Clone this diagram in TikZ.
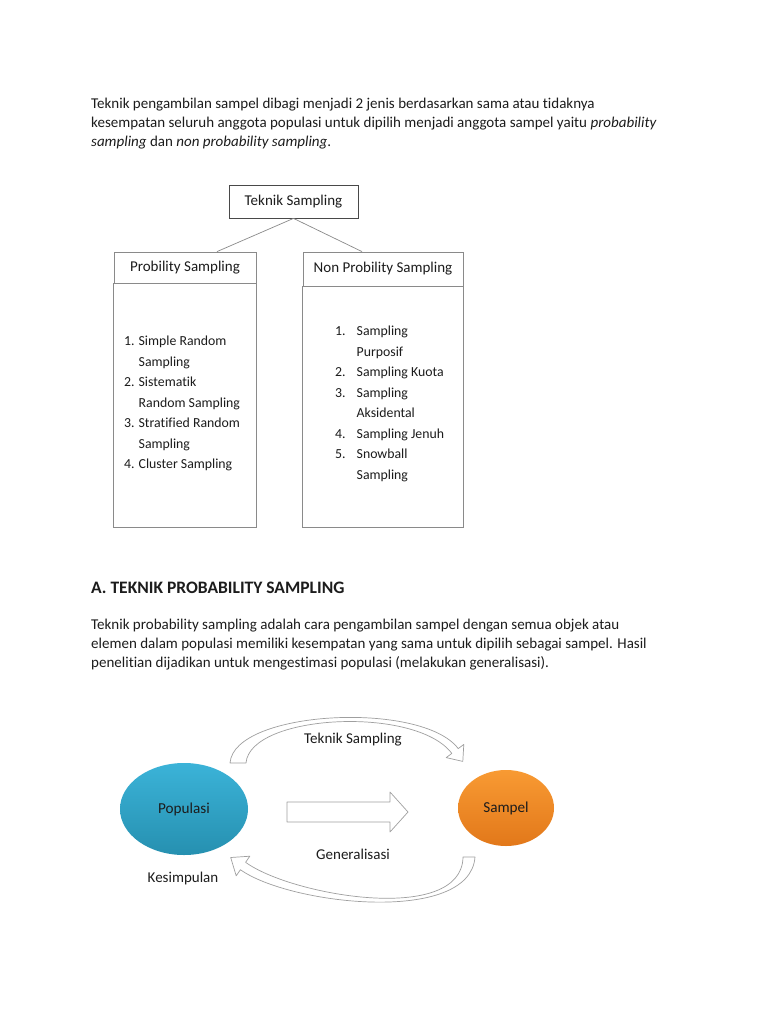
\documentclass[tikz,border=0pt]{standalone}
\usepackage{fontspec}
\setmainfont{Carlito}[Ligatures=NoCommon]
\usetikzlibrary{positioning,shapes.geometric,calc}
\definecolor{popblue}{HTML}{3BB3D8}
\definecolor{popbluedark}{HTML}{2690B0}
\definecolor{samporange}{HTML}{F89A33}
\definecolor{samporangedark}{HTML}{E2781A}
\definecolor{boxgray}{HTML}{8A8A8A}
\definecolor{inkgray}{HTML}{1C1C1C}

\tikzset{
  bodytext/.style={font=\fontsize{15}{19}\selectfont, align=left, inner sep=0pt, anchor=north west, text=inkgray},
  listtext/.style={font=\fontsize{13.8}{20.5}\selectfont, inner sep=0pt, anchor=north west, text=inkgray},
  headbox/.style={draw=boxgray, line width=0.8pt, inner sep=0pt, font=\fontsize{15}{17}\selectfont, text=inkgray},
  bodybox/.style={draw=boxgray, line width=0.8pt},
  blob/.style={ellipse, inner sep=0pt, font=\fontsize{15.2}{17}\selectfont, text=inkgray},
  hollowarrow/.style={draw=gray!75, fill=white, line width=0.7pt, line join=round},
  linklabel/.style={font=\fontsize{15}{17}\selectfont, inner sep=0pt, text=inkgray}
}

\begin{document}
\begin{tikzpicture}[x=1pt, y=-1pt]
  \fill[white] (0,0) rectangle (768,1024);
  \useasboundingbox (0,0) rectangle (768,1024);

  \node[bodytext] (intro) at (91,97.5) {Teknik pengambilan sampel dibagi menjadi 2 jenis berdasarkan sama atau tidaknya\\
    kesempatan seluruh anggota populasi untuk dipilih menjadi anggota sampel yaitu \emph{probability}\\
    \emph{sampling} dan \emph{non probability sampling}.};

  % pohon teknik sampling
  \node[headbox, draw=inkgray!80, minimum width=129pt, minimum height=33pt] (teknik) at (293.5,201.5) {Teknik Sampling};
  \node[headbox, minimum width=142pt, minimum height=31pt] (probhead) at (185,267.5) {Probility Sampling};
  \node[headbox, minimum width=160pt, minimum height=34pt] (nonhead) at (383,269) {Non Probility Sampling};
  \draw[bodybox] (probhead.south west) rectangle (256,527);
  \draw[bodybox] (nonhead.south west) rectangle (463,527);
  \draw[boxgray, line width=0.7pt] (teknik.south) -- ([xshift=32pt]probhead.north);
  \draw[boxgray, line width=0.7pt] (teknik.south) -- ([xshift=-21pt]nonhead.north);

  \node[listtext] (problist) at (124,331) {\begin{tabular}{@{}l@{\hspace{4pt}}l@{}}
    1. & Simple Random\\
       & Sampling\\
    2. & Sistematik\\
       & Random Sampling\\
    3. & Stratified Random\\
       & Sampling\\
    4. & Cluster Sampling
  \end{tabular}};
  \node[listtext] (nonlist) at (335,321) {\begin{tabular}{@{}l@{\hspace{11pt}}l@{}}
    1. & Sampling\\
       & Purposif\\
    2. & Sampling Kuota\\
    3. & Sampling\\
       & Aksidental\\
    4. & Sampling Jenuh\\
    5. & Snowball\\
       & Sampling
  \end{tabular}};

  \node[anchor=west, inner sep=0pt, font=\fontsize{17.5}{20}\selectfont\bfseries, text=inkgray] (heading) at (91,588) {A. TEKNIK PROBABILITY SAMPLING};

  \node[bodytext] (probdef) at (91,619) {Teknik probability sampling adalah cara pengambilan sampel dengan semua objek atau\\
    elemen dalam populasi memiliki kesempatan yang sama untuk dipilih sebagai sampel. Hasil\\
    penelitian dijadikan untuk mengestimasi populasi (melakukan generalisasi).};

  % siklus populasi - sampel
  \node[blob, top color=popblue, bottom color=popbluedark, minimum width=128pt, minimum height=92pt] (populasi) at (184,809) {Populasi};
  \node[blob, top color=samporange, bottom color=samporangedark, minimum width=96pt, minimum height=76pt] (sampel) at (506,808) {Sampel};

  \draw[hollowarrow] (287,802) -- (390,802) -- (390,792) -- (408,812) -- (390,832) -- (390,822) -- (287,822) -- cycle;

  \draw[hollowarrow] (230,763) .. controls (234,710) and (422.2,700.6) .. (458.2,748.6)
    -- (463.8,744.4) -- (462.8,761.4) -- (446.2,757.6) -- (451.8,753.4)
    .. controls (415.8,705.4) and (250,714) .. (246,763) -- cycle;
  \draw[hollowarrow] (475,857) .. controls (470,925) and (290,905) .. (240.4,869.7)
    -- (236.2,875.8) -- (230.7,857.5) -- (249.8,856.2) -- (245.6,862.3)
    .. controls (292,896) and (462,925) .. (463,857) -- cycle;

  \node[linklabel] (ltop) at (353,740) {Teknik Sampling};
  \node[linklabel] (lmid) at (353,854) {Generalisasi};
  \node[linklabel] (lbot) at (183,878) {Kesimpulan};
\end{tikzpicture}
\end{document}
